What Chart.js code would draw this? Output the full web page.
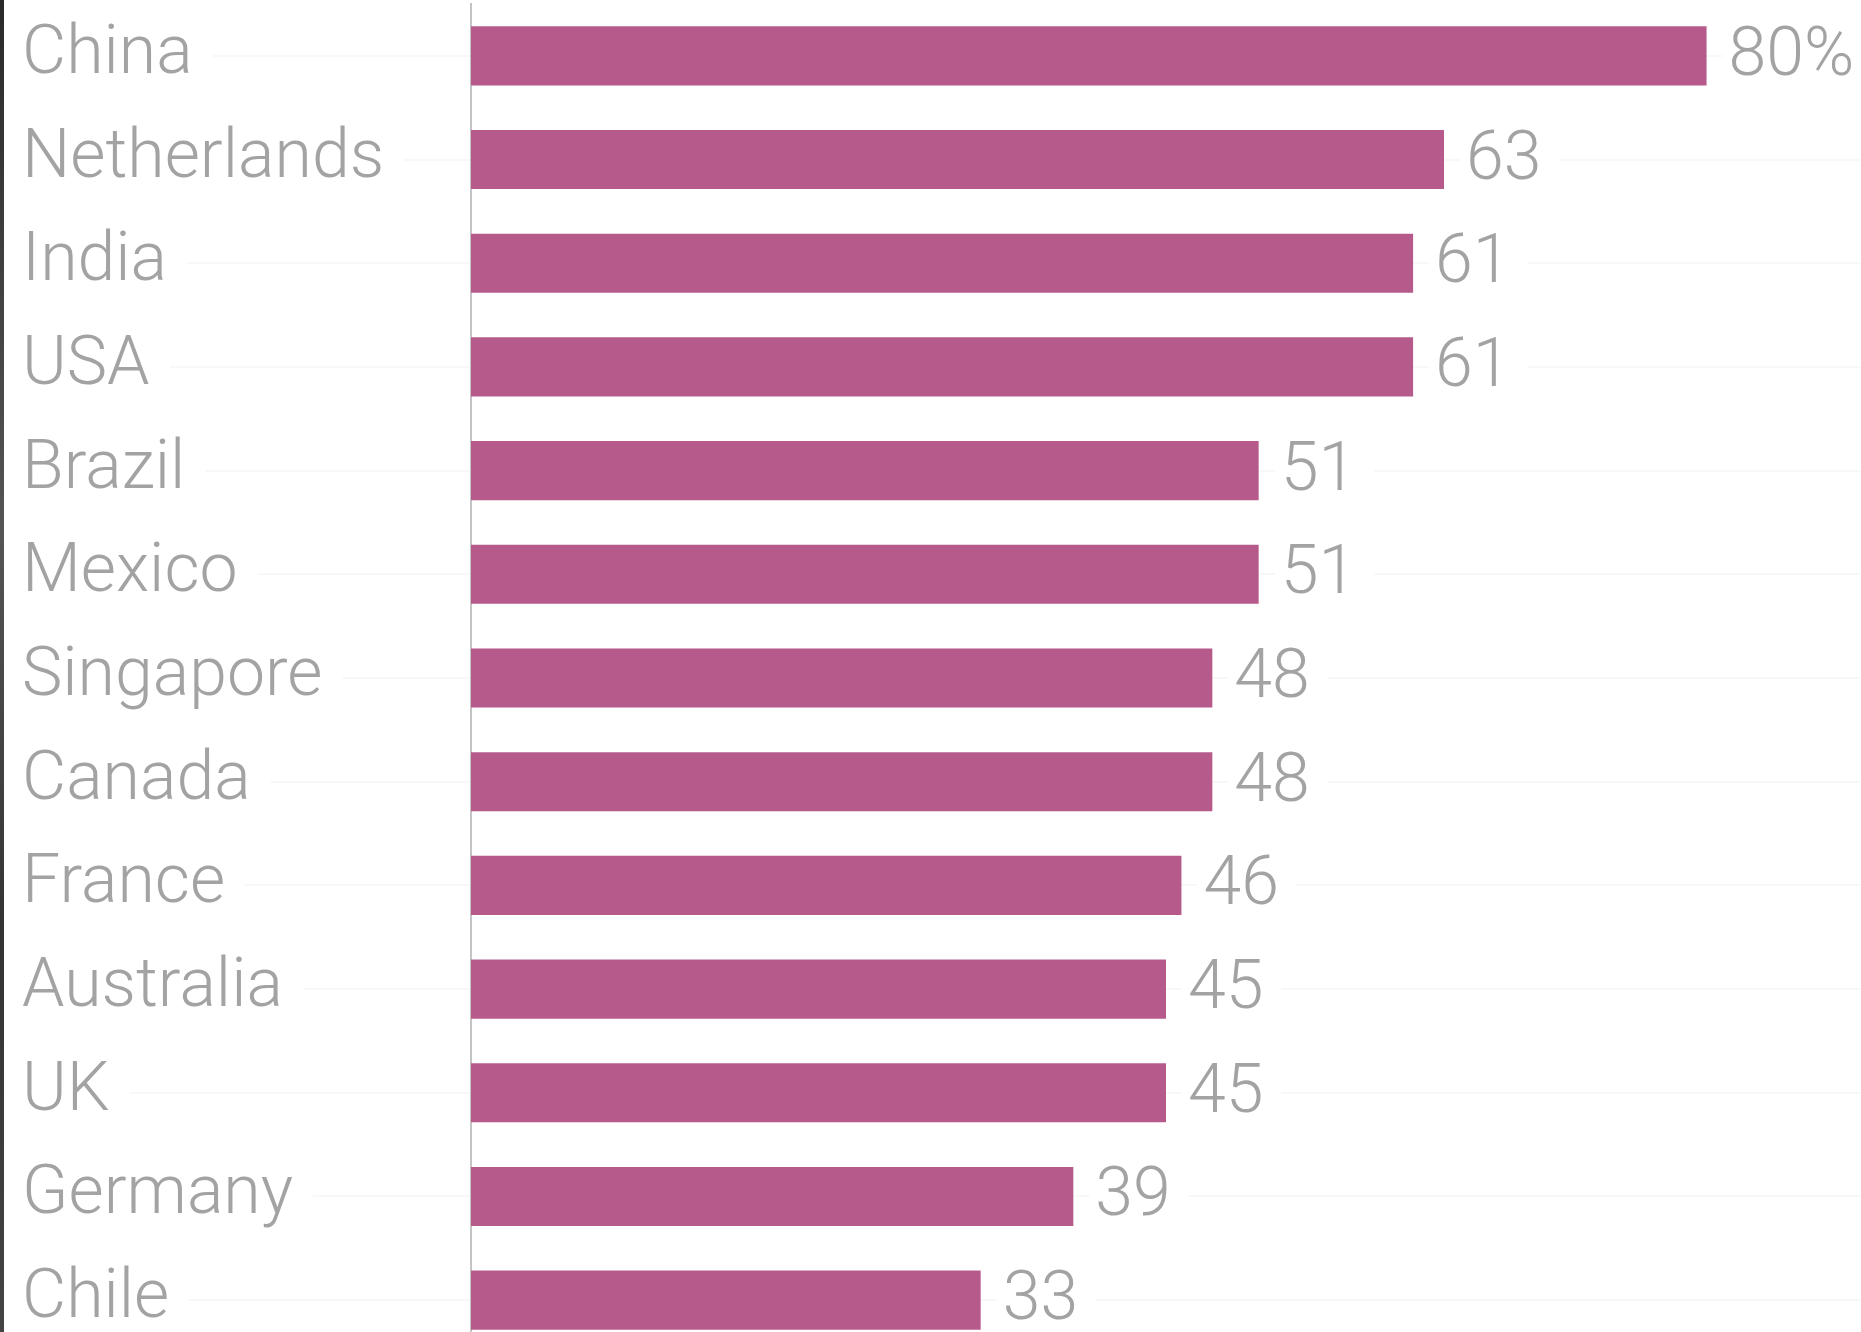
<!DOCTYPE html>
<html>
<head>
<meta charset="utf-8">
<script src="https://cdn.jsdelivr.net/npm/chart.js@4"></script>
<style>
  html, body { margin: 0; padding: 0; background: #fff; overflow: hidden; }
  #wrap { position: relative; width: 1861px; height: 1352px; }
  #edge { position: absolute; left: 0; top: 0; width: 4px; height: 1332px; background: linear-gradient(#2a2a2a, #555 40%, #333 70%, #444); z-index: 2; }
</style>
</head>
<body>
<div id="wrap">
  <div id="edge"></div>
  <canvas id="c" width="1861" height="1352"></canvas>
</div>
<script>
const categories = ["China", "Netherlands", "India", "USA", "Brazil", "Mexico", "Singapore", "Canada", "France", "Australia", "UK", "Germany", "Chile"];
const values = [80, 63, 61, 61, 51, 51, 48, 48, 46, 45, 45, 39, 33];
const valueLabels = ["80%", "63", "61", "61", "51", "51", "48", "48", "46", "45", "45", "39", "33"];

const TEXT = '#a3a3a3';
const FONT = { family: 'Roboto', size: 68, weight: '300' };

const valueLabelPlugin = {
  id: 'valueLabels',
  afterDatasetsDraw(chart) {
    const ctx = chart.ctx;
    const meta = chart.getDatasetMeta(0);
    ctx.save();
    ctx.font = `${FONT.weight} ${FONT.size}px ${FONT.family}`;
    ctx.textBaseline = 'middle';
    ctx.textAlign = 'left';
    meta.data.forEach((bar, i) => {
      const txt = valueLabels[i];
      const x = bar.x + 22;
      const w = ctx.measureText(txt).width;
      ctx.fillStyle = '#fff';
      ctx.fillRect(x - 6, bar.y - 30, w + 24, 60);
      ctx.fillStyle = TEXT;
      ctx.fillText(txt, x, bar.y + 2);
    });
    ctx.restore();
  }
};

new Chart(document.getElementById('c'), {
  type: 'bar',
  data: {
    labels: categories,
    datasets: [{
      data: values,
      backgroundColor: '#b65a8c',
      borderWidth: 0,
      barPercentage: 0.57,
      categoryPercentage: 1.0
    }]
  },
  options: {
    indexAxis: 'y',
    responsive: false,
    animation: false,
    layout: { padding: { left: 22, top: 4, right: 0, bottom: 0 } },
    plugins: { legend: { display: false }, tooltip: { enabled: false } },
    scales: {
      x: {
        display: false,
        min: 0,
        max: 90
      },
      y: {
        afterFit(scale) { scale.width = 449; scale.paddingTop = 0; scale.paddingBottom = 0; },
        grid: {
          offset: false,
          color: '#f8f8f8',
          lineWidth: 2,
          drawTicks: true,
          tickLength: 449
        },
        border: { display: true, color: '#c4c4c4', width: 2 },
        ticks: {
          crossAlign: 'far',
          padding: 0,
          color: TEXT,
          font: FONT,
          showLabelBackdrop: true,
          backdropColor: '#ffffff',
          backdropPadding: { left: 0, right: 20, top: 0, bottom: 0 }
        }
      }
    }
  },
  plugins: [valueLabelPlugin]
});
</script>
</body>
</html>
